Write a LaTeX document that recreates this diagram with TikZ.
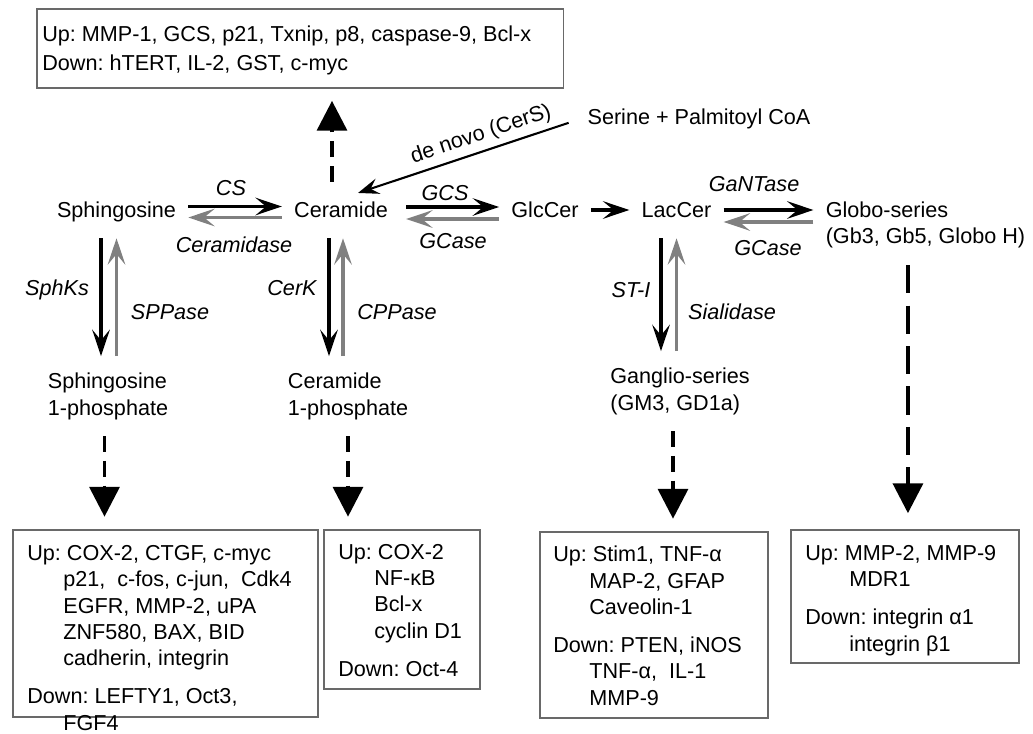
\documentclass[tikz,border=0pt]{standalone}
\usepackage{fontspec}
\setmainfont{Liberation Sans}
\frenchspacing
\usetikzlibrary{arrows.meta}
\definecolor{revgray}{RGB}{128,128,128}
\definecolor{boxgray}{RGB}{105,105,105}
\newcommand{\diagfont}{\fontsize{12.3}{15}\selectfont}
\newcommand{\gind}{\hspace*{0.72cm}}
\tikzset{
  pathway/.style={x=0.02cm,y=-0.02cm},
  species/.style={font=\diagfont,inner xsep=6.8pt,inner ysep=9.4pt,text height=0.75em,text depth=0.25em,anchor=base},
  product/.style={font=\diagfont,align=left,inner xsep=6.8pt,inner ysep=9.4pt,anchor=base},
  enzyme/.style={font=\diagfont\itshape,inner sep=0pt,anchor=base},
  genes/.style={font=\diagfont,align=left,inner sep=0pt,anchor=base west},
  genebox/.style={draw=boxgray,line width=0.9pt,inner sep=0pt,anchor=north west},
  fwd/.style={draw=black,line width=2pt,-{Stealth[length=15pt,width=10pt,inset=6pt]}},
  rev/.style={draw=revgray,line width=2pt,-{Stealth[length=15pt,width=10pt,inset=6pt]}},
  signal/.style={line width=2.2pt,dash pattern=on 9pt off 5pt,shorten >=7pt,-{Triangle[length=17pt,width=17pt]}}
}

\begin{document}
\begin{tikzpicture}[pathway]
    \useasboundingbox (0,0) rectangle (1033,733);
    % metabolites (multi-line nodes sit on their last baseline)
    \node[species] (sph) at (116.5,217) {Sphingosine};
    \node[species] (cer) at (341,217) {Ceramide};
    \node[species] (glc) at (545,217) {GlcCer};
    \node[species] (lac) at (676.5,217) {LacCer};
    \node[species] (globo) at (887,217) {Globo-series};
    \node[species,anchor=base west] (globosub) at ([yshift=-0.54cm]globo.base west) {(Gb3, Gb5, Globo H)};
    \node[species] (serine) at (699,125) {Serine + Palmitoyl CoA};
    \node[product] (s1p) at (108,415) {Sphingosine\\1-phosphate};
    \node[product] (c1p) at (348,415) {Ceramide\\1-phosphate};
    \node[product] (gang) at (680,410) {Ganglio-series\\(GM3, GD1a)};

    % gene boxes
    \node[genebox,minimum width=10.54cm,minimum height=1.58cm] (topbox) at (36,8) {};
    \node[genebox,minimum width=6.1cm,minimum height=3.74cm] (b1) at (12,529) {};
    \node[genebox,minimum width=3.12cm,minimum height=3.18cm] (b2) at (323,529) {};
    \node[genebox,minimum width=4.56cm,minimum height=3.72cm] (b3) at (539,531) {};
    \node[genebox,minimum width=4.56cm,minimum height=2.66cm] (b4) at (790,529) {};
    \node[genes] (toptxt) at (42,71) {Up: MMP-1, GCS, p21, Txnip, p8, caspase-9, Bcl-x\\[2pt]Down: hTERT, IL-2, GST, c-myc};
    \node[genes] (b1txt) at (27,730) {Up: COX-2, CTGF, c-myc\\ \gind p21,\ \ c-fos, c-jun,\ \ Cdk4\\ \gind EGFR, MMP-2, uPA\\ \gind ZNF580, BAX, BID\\ \gind cadherin, integrin\\[6.5pt]Down: LEFTY1, Oct3,\\ \gind FGF4};
    \node[genes] (b2txt) at (338,676) {Up: COX-2\\ \gind NF-κB\\ \gind Bcl-x\\ \gind cyclin D1\\[6.5pt]Down: Oct-4};
    \node[genes] (b3txt) at (553,705) {Up: Stim1, TNF-α\\ \gind MAP-2, GFAP\\ \gind Caveolin-1\\[6.5pt]Down: PTEN, iNOS\\ \gind TNF-α,\ \ IL-1\\ \gind MMP-9};
    \node[genes] (b4txt) at (805,651) {Up: MMP-2, MMP-9\\ \hspace*{0.88cm}MDR1\\[6.5pt]Down: integrin α1\\ \hspace*{0.88cm}integrin β1};

    % reversible steps
    \draw[fwd] ([yshift=0.21cm]sph.base east) -- ([yshift=0.21cm]cer.base west);
    \draw[rev] ([yshift=-0.01cm]cer.base west) -- ([yshift=-0.01cm]sph.base east);
    \draw[fwd,shorten <=3.4pt] ([yshift=0.2cm]cer.base east) -- ([yshift=0.2cm]glc.base west);
    \draw[rev,shorten >=3.4pt] ([yshift=-0.04cm]glc.base west) -- ([yshift=-0.04cm]cer.base east);
    \draw[fwd] ([yshift=0.14cm]glc.base east) -- ([yshift=0.14cm]lac.base west);
    \draw[fwd] ([yshift=0.14cm]lac.base east) -- ([yshift=0.14cm]globo.base west);
    \draw[rev] ([yshift=-0.1cm]globo.base west) -- ([yshift=-0.1cm]lac.base east);
    \draw[fwd] ([xshift=-0.31cm]sph.south) -- ([xshift=-0.31cm]sph.south |- s1p.north);
    \draw[rev] (sph.south |- s1p.north) -- (sph.south);
    \draw[fwd] ([xshift=-0.24cm]cer.south) -- ([xshift=-0.24cm]cer.south |- c1p.north);
    \draw[rev] ([xshift=0.04cm]cer.south |- c1p.north) -- ([xshift=0.04cm]cer.south);
    \draw[fwd] ([xshift=-0.31cm]lac.south) -- ([xshift=-0.31cm]lac.south |- gang.north);
    \draw[rev] (lac.south |- gang.north) -- (lac.south);
    \draw[fwd,line width=1.2pt,shorten <=4pt,-{Stealth[length=12pt,width=9pt,inset=4.5pt]}] (serine.west) -- ([shift={(17,6)}]cer.north)
        node[pos=0.41,sloped,above=3pt,font=\diagfont,inner sep=0pt] (denovo) {de novo (CerS)};

    % enzymes
    \node[enzyme] (cs) at (231,195) {CS};
    \node[enzyme] (cdase) at (234,252) {Ceramidase};
    \node[enzyme] (gcs) at (445,200) {GCS};
    \node[enzyme] (gcase) at (453,248) {GCase};
    \node[enzyme] (gantase) at (754,192) {GaNTase};
    \node[enzyme] (gcasetwo) at (768,255) {GCase};
    \node[enzyme] (sphk) at (57,295) {SphKs};
    \node[enzyme] (sppase) at (170,319) {SPPase};
    \node[enzyme] (cerk) at (292,295) {CerK};
    \node[enzyme] (cppase) at (397,319) {CPPase};
    \node[enzyme] (st) at (631,297) {ST-I};
    \node[enzyme] (sialidase) at (732,319) {Sialidase};

    % downstream effects
    \draw[signal,shorten <=3pt] ([xshift=-0.18cm]cer.north) -- ([xshift=-0.18cm]cer.north |- topbox.south);
    \draw[signal] ([xshift=-0.07cm]s1p.south) -- ([xshift=-0.07cm]s1p.south |- b1.north);
    \draw[signal] (c1p.south) -- (c1p.south |- b2.north);
    \draw[signal] ([xshift=-0.14cm]gang.south) -- ([xshift=-0.14cm]gang.south |- b3.north);
    \draw[signal,dash pattern=on 16pt off 7pt,shorten >=9pt] ([xshift=-0.35cm]globosub.south) -- ([xshift=-0.35cm]globosub.south |- b4.north);
\end{tikzpicture}
\end{document}
